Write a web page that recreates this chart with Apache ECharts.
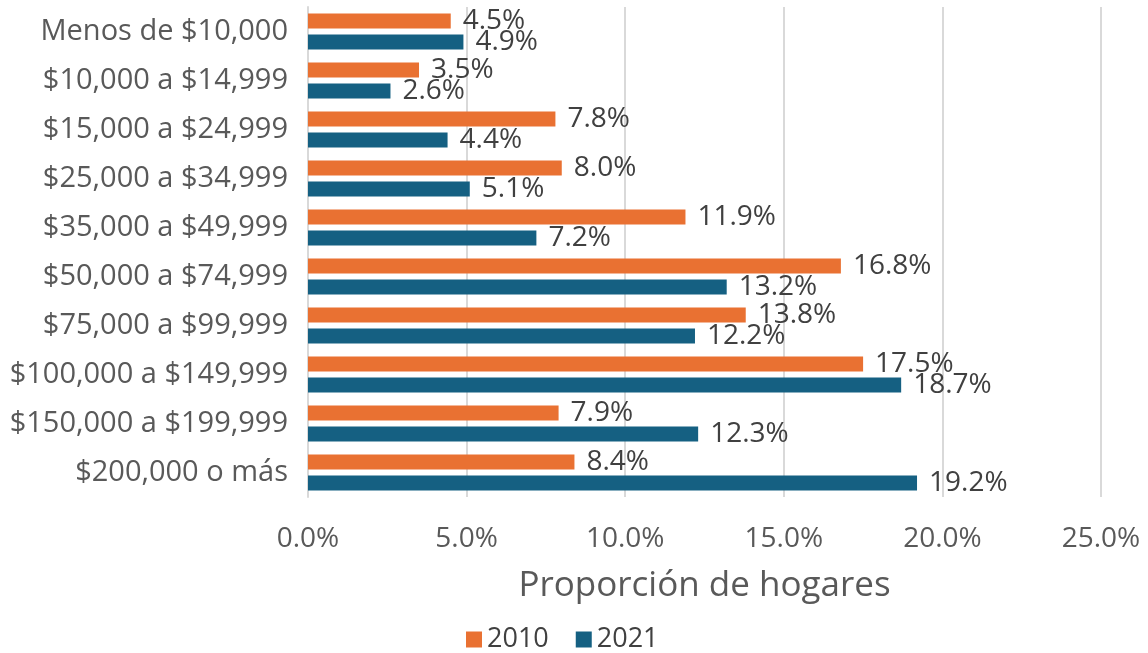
<!DOCTYPE html>
<html>
<head>
<meta charset="utf-8">
<script src="https://cdn.jsdelivr.net/npm/echarts@6/dist/echarts.min.js"></script>
<style>
	html, body { margin: 0; padding: 0; background: #fff; }
	#chart { width: 1148px; height: 653px; }
</style>
</head>
<body>
<div id="chart"></div>
<script>
	var categories = [
		"Menos de $10,000",
		"$10,000 a $14,999",
		"$15,000 a $24,999",
		"$25,000 a $34,999",
		"$35,000 a $49,999",
		"$50,000 a $74,999",
		"$75,000 a $99,999",
		"$100,000 a $149,999",
		"$150,000 a $199,999",
		"$200,000 o más"
	];

	var values2010 = [4.5, 3.5, 7.8, 8.0, 11.9, 16.8, 13.8, 17.5, 7.9, 8.4];
	var values2021 = [4.9, 2.6, 4.4, 5.1, 7.2, 13.2, 12.2, 18.7, 12.3, 19.2];

	var seriesNames = ["2010", "2021"];

	var FONT = "'Open Sans', 'Noto Sans', sans-serif";

	/*
	 * 数据标签
	 */
	function barLabel() {
		return {
			show: true,
			position: "right",
			distance: 12,
			fontFamily: FONT,
			fontSize: 28,
			color: "#404040",
			formatter: function(p) {
				return p.value.toFixed(1) + "%";
			}
		};
	}

	var chart = echarts.init(document.getElementById("chart"));

	chart.setOption({
		animation: false,
		color: ["#E97132", "#156082"],
		grid: {
			left: 308,
			right: 47,
			top: 7,
			bottom: 156,
			containLabel: false
		},
		legend: {
			data: seriesNames,
			bottom: -5,
			left: 461,
			itemWidth: 16,
			itemHeight: 16,
			itemGap: 27,
			icon: "rect",
			textStyle: {
				fontFamily: FONT,
				fontSize: 27,
				color: "#404040"
			}
		},
		xAxis: {
			type: "value",
			min: 0,
			max: 25,
			interval: 5,
			name: "Proporción de hogares",
			nameLocation: "middle",
			nameGap: 72,
			nameTextStyle: {
				fontFamily: FONT,
				fontSize: 35,
				color: "#595959"
			},
			axisLine: { show: false },
			axisTick: { show: false },
			axisLabel: {
				margin: 28,
				fontFamily: FONT,
				fontSize: 28,
				color: "#595959",
				formatter: function(v) {
					return v.toFixed(1) + "%";
				}
			},
			splitLine: {
				lineStyle: { color: "#d9d9d9", width: 2 }
			}
		},
		yAxis: {
			type: "category",
			inverse: true,
			data: categories,
			axisLine: {
				lineStyle: { color: "#d9d9d9", width: 2 }
			},
			axisTick: { show: false },
			axisLabel: {
				margin: 20,
				fontFamily: FONT,
				fontSize: 29,
				color: "#595959"
			}
		},
		series: [{
			name: seriesNames[0],
			type: "bar",
			data: values2010,
			barWidth: 15,
			barGap: "40%",
			label: barLabel()
		}, {
			name: seriesNames[1],
			type: "bar",
			data: values2021,
			barWidth: 15,
			barGap: "40%",
			label: barLabel()
		}]
	});
</script>
</body>
</html>
